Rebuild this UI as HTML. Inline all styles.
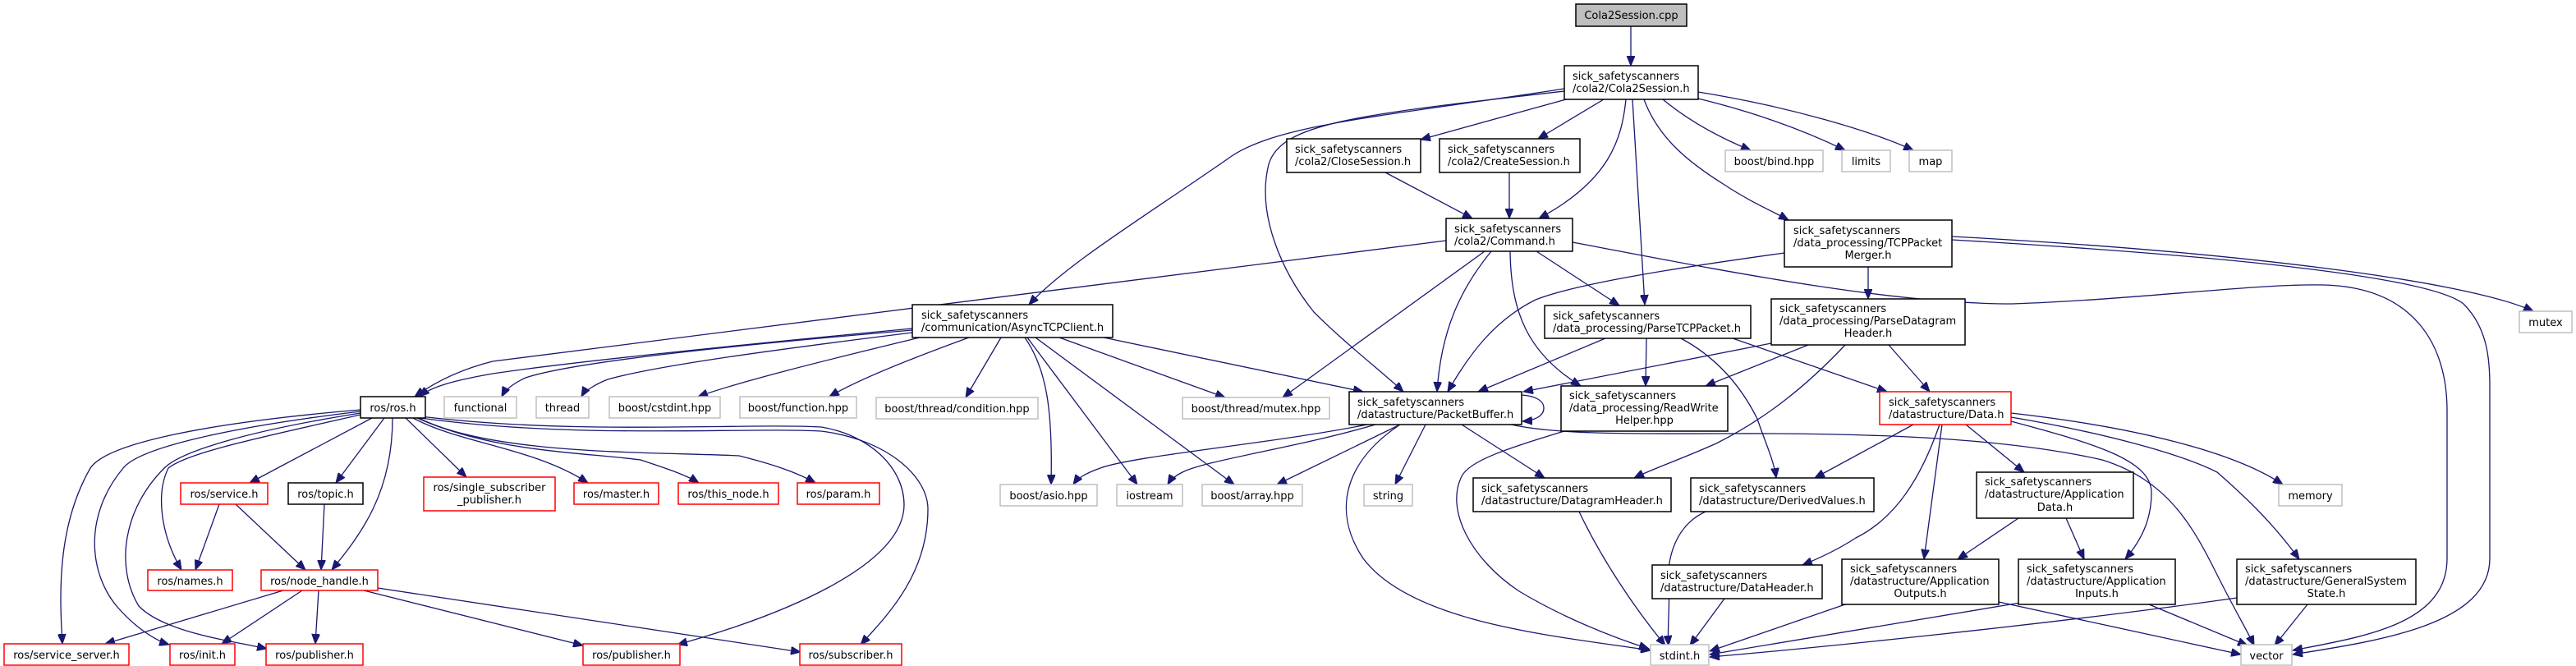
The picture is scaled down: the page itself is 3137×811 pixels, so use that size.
<!DOCTYPE html>
<html><head><meta charset="utf-8"><style>
html,body{margin:0;padding:0;background:#fff;}
svg{display:block;}
text{font-family:"DejaVu Sans","Liberation Sans",sans-serif;font-size:13px;fill:#000;}
.e{fill:none;stroke:#191970;stroke-width:1.3;marker-end:url(#a);}
.b{fill:#fff;stroke:#000;stroke-width:1.5;}
.r{fill:#fff;stroke:#ff0000;stroke-width:1.5;}
.g{fill:#fff;stroke:#bfbfbf;stroke-width:1.5;}
</style></head><body>
<svg width="3137" height="811" viewBox="0 0 3137 811" xmlns="http://www.w3.org/2000/svg">
<defs><marker id="a" markerUnits="userSpaceOnUse" markerWidth="13" markerHeight="10" refX="12" refY="5" orient="auto"><path d="M0,0 L12,5 L0,10 z" fill="#191970" stroke="#191970"/></marker></defs>

<!-- edges -->
<path class="e" d="M1986,32 L1986,80"/>
<path class="e" d="M1907,121 L1730,170"/>
<path class="e" d="M1953,121 L1873,169"/>
<path class="e" d="M1980,121 C1975,170 1960,220 1874,266"/>
<path class="e" d="M1988,121 L2003,371"/>
<path class="e" d="M1905,108 C1700,140 1560,150 1500,190 C1400,260 1300,320 1253,371"/>
<path class="e" d="M1905,111 C1650,140 1560,150 1545,200 C1530,260 1560,330 1600,380 C1640,420 1680,450 1709,477"/>
<path class="e" d="M2002,121 C2020,170 2060,200 2100,225 C2130,245 2160,258 2178,268"/>
<path class="e" d="M2025,121 C2060,150 2100,170 2132,183"/>
<path class="e" d="M2068,120 C2150,140 2210,165 2247,183"/>
<path class="e" d="M2068,112 C2180,130 2280,160 2330,183"/>
<path class="e" d="M1687,210 L1793,266"/>
<path class="e" d="M1838,210 L1838,266"/>
<path class="e" d="M1761,293 C1400,340 900,400 600,440 C560,450 530,465 505,483"/>
<path class="e" d="M1808,306 L1562,484"/>
<path class="e" d="M1816,306 C1780,350 1755,400 1750,477"/>
<path class="e" d="M1839,306 C1840,380 1860,430 1925,470"/>
<path class="e" d="M1871,306 L1972,372"/>
<path class="e" d="M1915,295 C2100,330 2300,370 2450,370 C2600,365 2750,345 2830,347 C2940,350 2980,420 2980,500 L2980,680 C2980,760 2880,775 2792,792"/>
<path class="e" d="M2377,292 C2600,305 2950,330 3000,370 C3030,400 3032,440 3032,470 L3032,680 C3032,760 2900,780 2792,797"/>
<path class="e" d="M2377,288 C2700,305 3000,340 3085,379"/>
<path class="e" d="M2275,325 L2275,364"/>
<path class="e" d="M2173,308 C2050,325 1920,345 1870,365 C1820,390 1790,430 1763,477"/>
<!-- Async -->
<path class="e" d="M1111,400 C900,420 700,440 600,455 C560,462 525,470 511,483"/>
<path class="e" d="M1111,402 C900,420 700,440 640,460 C625,467 615,475 611,483"/>
<path class="e" d="M1111,405 C950,425 800,445 740,462 C725,468 712,476 708,483"/>
<path class="e" d="M1120,411 C1000,440 900,465 850,483"/>
<path class="e" d="M1180,411 C1100,440 1040,465 1010,483"/>
<path class="e" d="M1219,411 L1176,484"/>
<path class="e" d="M1248,411 C1275,450 1282,500 1280,590"/>
<path class="e" d="M1251,411 L1385,590"/>
<path class="e" d="M1261,411 L1503,590"/>
<path class="e" d="M1290,411 L1492,484"/>
<path class="e" d="M1344,411 L1660,477"/>
<!-- ParseTCP -->
<path class="e" d="M1955,412 L1800,477"/>
<path class="e" d="M2005,412 L2004,470"/>
<path class="e" d="M2047,412 C2090,435 2120,470 2140,510 C2150,540 2160,560 2163,582"/>
<path class="e" d="M2110,412 L2298,477"/>
<!-- ParseDatagram -->
<path class="e" d="M2300,420 L2350,477"/>
<path class="e" d="M2157,418 L1855,477"/>
<path class="e" d="M2202,420 L2077,470"/>
<path class="e" d="M2247,420 C2200,470 2150,510 2090,540 C2050,558 2010,572 1990,582"/>
<!-- PacketBuffer -->
<path class="e" d="M1853,481 C1870,482 1880,488 1880,497 C1880,506 1870,512 1854,513"/>
<path class="e" d="M1665,517 C1550,540 1380,555 1340,570 C1320,577 1312,583 1307,590"/>
<path class="e" d="M1675,517 C1580,545 1470,560 1440,575 C1430,580 1425,585 1422,590"/>
<path class="e" d="M1705,517 L1555,590"/>
<path class="e" d="M1736,517 L1699,590"/>
<path class="e" d="M1705,517 C1640,560 1620,620 1660,680 C1720,760 1900,775 2010,792"/>
<path class="e" d="M1780,517 L1881,582"/>
<path class="e" d="M1840,517 C1900,530 2000,528 2100,528 C2300,527 2450,535 2560,560 C2640,585 2670,640 2700,700 C2720,740 2735,765 2745,786"/>
<path class="e" d="M1905,525 C1840,545 1790,560 1780,580 C1760,620 1790,680 1850,720 C1900,750 1960,775 2008,790"/>
<path class="e" d="M1923,623 C1950,680 1990,740 2028,786"/>
<path class="e" d="M2077,623 C2040,640 2030,680 2032,710 C2034,740 2030,765 2032,786"/>
<path class="e" d="M2100,729 L2058,786"/>
<path class="e" d="M2247,736 L2082,793"/>
<path class="e" d="M2460,734 C2300,760 2150,785 2082,797"/>
<path class="e" d="M2724,728 C2500,760 2200,790 2082,800"/>
<path class="e" d="M2434,733 L2729,797"/>
<path class="e" d="M2617,736 L2737,786"/>
<path class="e" d="M2810,736 L2770,786"/>
<path class="e" d="M2458,631 L2384,681"/>
<path class="e" d="M2516,631 L2538,681"/>
<!-- Data.h -->
<path class="e" d="M2330,517 L2210,582"/>
<path class="e" d="M2362,517 C2340,580 2310,630 2260,655 C2240,668 2215,680 2195,688"/>
<path class="e" d="M2365,517 L2343,681"/>
<path class="e" d="M2394,517 L2465,575"/>
<path class="e" d="M2449,513 C2550,540 2620,560 2620,600 C2620,630 2610,655 2588,681"/>
<path class="e" d="M2449,503 C2600,520 2720,550 2780,590"/>
<path class="e" d="M2449,508 C2550,525 2650,550 2700,575 C2740,610 2770,640 2800,681"/>
<!-- ros.h -->
<path class="e" d="M439,499 C250,515 130,540 110,570 C70,640 72,720 76,784"/>
<path class="e" d="M439,501 C280,520 170,545 150,570 C100,630 110,700 142,738 C165,765 190,780 206,785"/>
<path class="e" d="M439,503 C300,525 220,550 200,570 C150,620 140,690 169,738 C200,770 280,780 325,790"/>
<path class="e" d="M439,505 C330,530 230,550 205,570 C190,600 195,650 221,694"/>
<path class="e" d="M453,509 L304,588"/>
<path class="e" d="M468,509 L409,588"/>
<path class="e" d="M478,509 C478,600 440,650 404,694"/>
<path class="e" d="M494,509 L568,581"/>
<path class="e" d="M503,509 C560,540 650,545 716,588"/>
<path class="e" d="M508,509 C600,550 700,550 780,560 C810,570 835,578 851,588"/>
<path class="e" d="M510,509 C600,555 800,550 900,555 C940,565 970,575 993,588"/>
<path class="e" d="M512,509 C700,535 900,520 1000,525 C1080,535 1130,580 1130,620 C1130,700 1080,750 1048,785"/>
<path class="e" d="M512,507 C700,530 900,515 1000,520 C1060,530 1101,570 1101,615 C1100,690 950,750 825,785"/>
<path class="e" d="M267,614 L238,694"/>
<path class="e" d="M287,614 L372,694"/>
<path class="e" d="M395,614 L391,694"/>
<path class="e" d="M345,719 L128,784"/>
<path class="e" d="M368,719 L270,784"/>
<path class="e" d="M388,719 L384,784"/>
<path class="e" d="M443,719 L710,786"/>
<path class="e" d="M460,716 L975,794"/>

<!-- nodes -->
<rect x="1919" y="5" width="135" height="27" fill="#bfbfbf" stroke="#000" stroke-width="1.5"/>
<text x="1986.5" y="23" text-anchor="middle">Cola2Session.cpp</text>

<rect class="b" x="1905" y="80" width="163" height="41"/>
<text x="1915" y="97">sick_safetyscanners</text><text x="1915" y="112">/cola2/Cola2Session.h</text>

<rect class="b" x="1567" y="169" width="163" height="41"/>
<text x="1577" y="186">sick_safetyscanners</text><text x="1577" y="201">/cola2/CloseSession.h</text>

<rect class="b" x="1753" y="169" width="171" height="41"/>
<text x="1763" y="186">sick_safetyscanners</text><text x="1763" y="201">/cola2/CreateSession.h</text>

<rect class="b" x="1761" y="266" width="154" height="40"/>
<text x="1771" y="283">sick_safetyscanners</text><text x="1771" y="298">/cola2/Command.h</text>

<rect class="b" x="1111" y="371" width="244" height="40"/>
<text x="1122" y="388">sick_safetyscanners</text><text x="1122" y="403">/communication/AsyncTCPClient.h</text>

<rect class="b" x="1881" y="372" width="251" height="40"/>
<text x="1891" y="389">sick_safetyscanners</text><text x="1891" y="404">/data_processing/ParseTCPPacket.h</text>

<rect class="b" x="2173" y="268" width="204" height="57"/>
<text x="2184" y="285">sick_safetyscanners</text><text x="2184" y="300">/data_processing/TCPPacket</text><text x="2275" y="315" text-anchor="middle">Merger.h</text>

<rect class="g" x="2101" y="183" width="119" height="26"/><text x="2160.5" y="201" text-anchor="middle">boost/bind.hpp</text>
<rect class="g" x="2243" y="183" width="59" height="26"/><text x="2272.5" y="201" text-anchor="middle">limits</text>
<rect class="g" x="2325" y="183" width="52" height="26"/><text x="2351" y="201" text-anchor="middle">map</text>

<rect class="b" x="439" y="483" width="79" height="26"/><text x="478.5" y="501" text-anchor="middle">ros/ros.h</text>
<rect class="g" x="541" y="483" width="88" height="26"/><text x="585" y="501" text-anchor="middle">functional</text>
<rect class="g" x="653" y="483" width="64" height="26"/><text x="685" y="501" text-anchor="middle">thread</text>
<rect class="g" x="742" y="483" width="135" height="26"/><text x="809.5" y="501" text-anchor="middle">boost/cstdint.hpp</text>
<rect class="g" x="901" y="483" width="142" height="26"/><text x="972" y="501" text-anchor="middle">boost/function.hpp</text>
<rect class="g" x="1067" y="484" width="197" height="26"/><text x="1165.5" y="502" text-anchor="middle">boost/thread/condition.hpp</text>
<rect class="g" x="1440" y="484" width="179" height="26"/><text x="1529.5" y="502" text-anchor="middle">boost/thread/mutex.hpp</text>

<rect class="b" x="1643" y="477" width="210" height="40"/>
<text x="1653" y="494">sick_safetyscanners</text><text x="1653" y="509">/datastructure/PacketBuffer.h</text>

<rect class="b" x="1901" y="470" width="203" height="55"/>
<text x="1911" y="486">sick_safetyscanners</text><text x="1911" y="501">/data_processing/ReadWrite</text><text x="2002.5" y="516" text-anchor="middle">Helper.hpp</text>

<rect class="b" x="2157" y="364" width="236" height="56"/>
<text x="2167" y="380">sick_safetyscanners</text><text x="2167" y="395">/data_processing/ParseDatagram</text><text x="2275" y="410" text-anchor="middle">Header.h</text>

<rect class="r" x="2289" y="477" width="160" height="40"/>
<text x="2300" y="494">sick_safetyscanners</text><text x="2300" y="509">/datastructure/Data.h</text>

<rect class="g" x="3068" y="379" width="64" height="26"/><text x="3100" y="397" text-anchor="middle">mutex</text>

<rect class="r" x="220" y="588" width="106" height="26"/><text x="273" y="606" text-anchor="middle">ros/service.h</text>
<rect class="b" x="351" y="588" width="91" height="26"/><text x="396.5" y="606" text-anchor="middle">ros/topic.h</text>
<rect class="r" x="516" y="581" width="160" height="41"/><text x="596" y="598" text-anchor="middle">ros/single_subscriber</text><text x="596" y="613" text-anchor="middle">_publisher.h</text>
<rect class="r" x="699" y="588" width="103" height="26"/><text x="750.5" y="606" text-anchor="middle">ros/master.h</text>
<rect class="r" x="826" y="588" width="122" height="26"/><text x="887" y="606" text-anchor="middle">ros/this_node.h</text>
<rect class="r" x="971" y="588" width="100" height="26"/><text x="1021" y="606" text-anchor="middle">ros/param.h</text>

<rect class="g" x="1218" y="590" width="118" height="26"/><text x="1277" y="608" text-anchor="middle">boost/asio.hpp</text>
<rect class="g" x="1360" y="590" width="80" height="26"/><text x="1400" y="608" text-anchor="middle">iostream</text>
<rect class="g" x="1464" y="590" width="122" height="26"/><text x="1525" y="608" text-anchor="middle">boost/array.hpp</text>
<rect class="g" x="1661" y="590" width="59" height="26"/><text x="1690.5" y="608" text-anchor="middle">string</text>

<rect class="b" x="1794" y="582" width="241" height="41"/>
<text x="1804" y="599">sick_safetyscanners</text><text x="1804" y="614">/datastructure/DatagramHeader.h</text>
<rect class="b" x="2059" y="582" width="223" height="41"/>
<text x="2069" y="599">sick_safetyscanners</text><text x="2069" y="614">/datastructure/DerivedValues.h</text>
<rect class="b" x="2407" y="575" width="191" height="56"/>
<text x="2417" y="591">sick_safetyscanners</text><text x="2417" y="606">/datastructure/Application</text><text x="2502.5" y="622" text-anchor="middle">Data.h</text>
<rect class="g" x="2775" y="590" width="77" height="26"/><text x="2813.5" y="608" text-anchor="middle">memory</text>

<rect class="r" x="180" y="694" width="103" height="25"/><text x="231.5" y="712" text-anchor="middle">ros/names.h</text>
<rect class="r" x="318" y="694" width="142" height="25"/><text x="389" y="712" text-anchor="middle">ros/node_handle.h</text>

<rect class="b" x="2012" y="688" width="207" height="41"/>
<text x="2022" y="705">sick_safetyscanners</text><text x="2022" y="720">/datastructure/DataHeader.h</text>
<rect class="b" x="2243" y="681" width="191" height="55"/>
<text x="2253" y="697">sick_safetyscanners</text><text x="2253" y="712">/datastructure/Application</text><text x="2338.5" y="727" text-anchor="middle">Outputs.h</text>
<rect class="b" x="2458" y="681" width="191" height="55"/>
<text x="2468" y="697">sick_safetyscanners</text><text x="2468" y="712">/datastructure/Application</text><text x="2553.5" y="727" text-anchor="middle">Inputs.h</text>
<rect class="b" x="2724" y="681" width="218" height="55"/>
<text x="2734" y="697">sick_safetyscanners</text><text x="2734" y="712">/datastructure/GeneralSystem</text><text x="2833" y="727" text-anchor="middle">State.h</text>

<rect class="r" x="5" y="784" width="152" height="26"/><text x="81" y="802" text-anchor="middle">ros/service_server.h</text>
<rect class="r" x="207" y="784" width="79" height="26"/><text x="246.5" y="802" text-anchor="middle">ros/init.h</text>
<rect class="r" x="324" y="784" width="118" height="26"/><text x="383" y="802" text-anchor="middle">ros/publisher.h</text>
<rect class="r" x="710" y="784" width="118" height="26"/><text x="769" y="802" text-anchor="middle">ros/publisher.h</text>
<rect class="r" x="974" y="784" width="124" height="26"/><text x="1036" y="802" text-anchor="middle">ros/subscriber.h</text>
<rect class="g" x="2010" y="785" width="71" height="25"/><text x="2045.5" y="803" text-anchor="middle">stdint.h</text>
<rect class="g" x="2729" y="785" width="62" height="25"/><text x="2760" y="803" text-anchor="middle">vector</text>
</svg>
</body></html>
